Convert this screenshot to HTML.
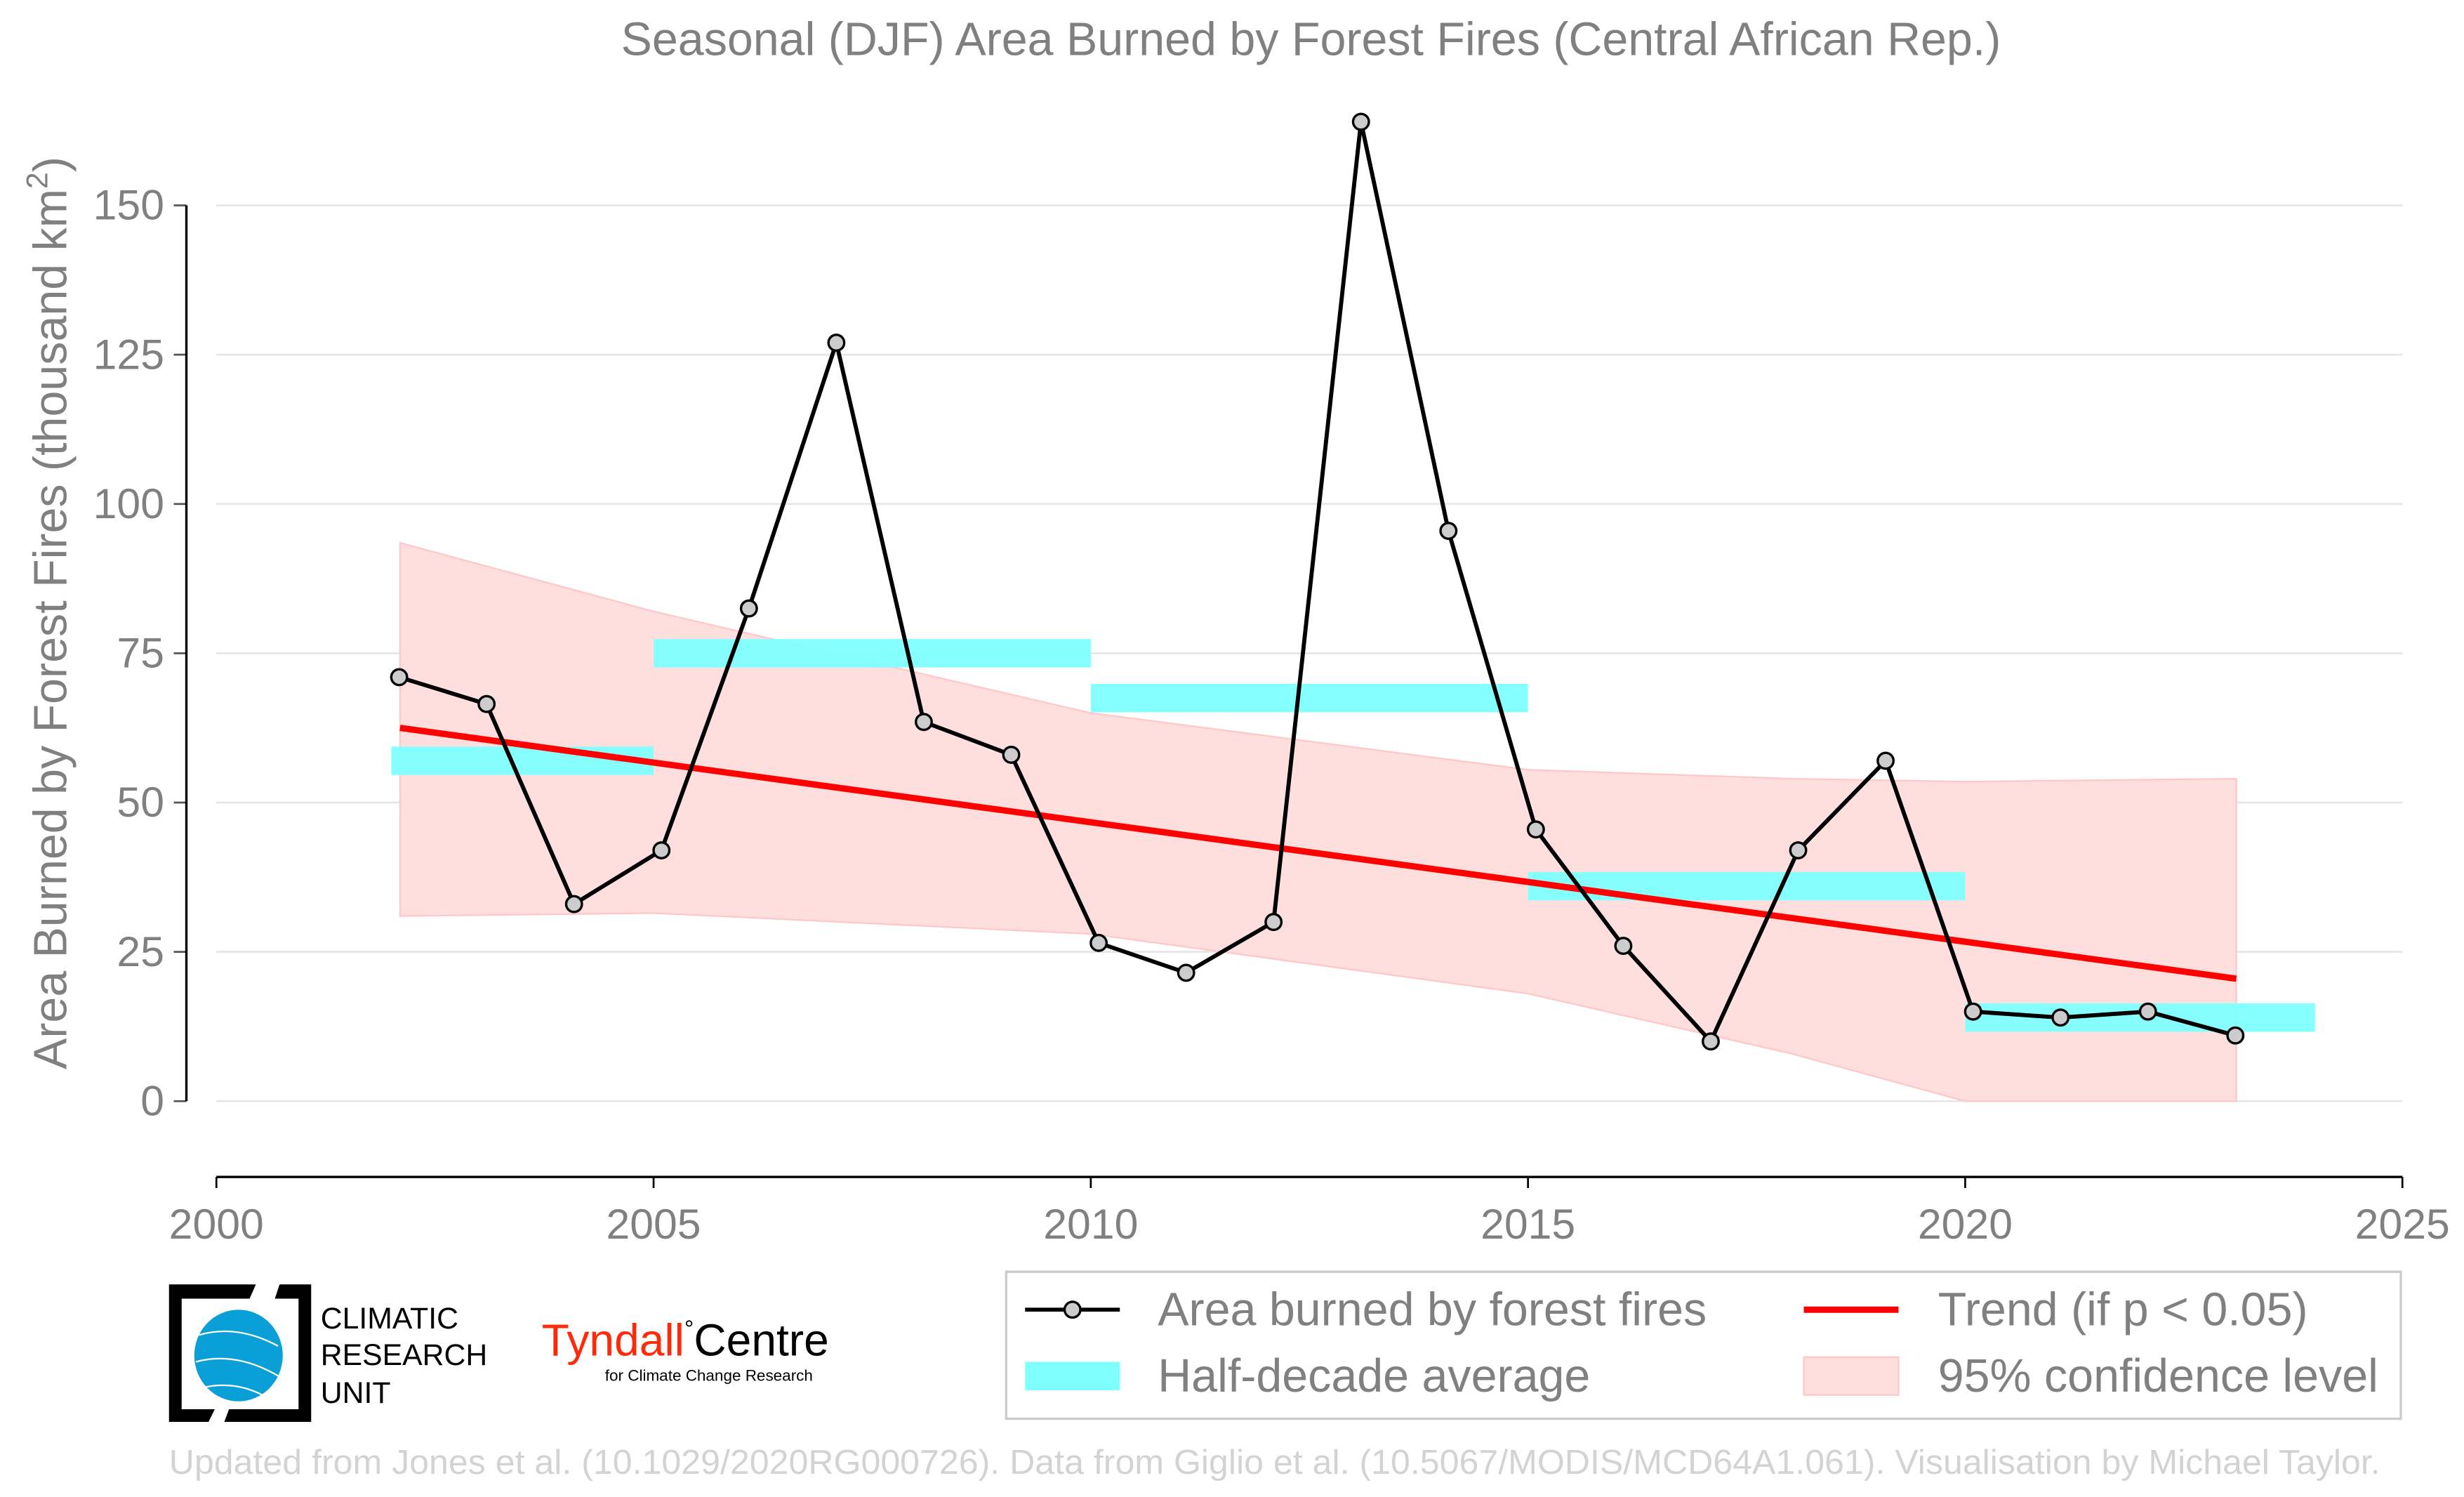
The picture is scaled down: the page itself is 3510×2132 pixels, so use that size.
<!DOCTYPE html>
<html><head><meta charset="utf-8"><style>
html,body{margin:0;padding:0;background:#fff}
svg{display:block;font-family:"Liberation Sans",sans-serif}
</style></head><body>
<svg width="3510" height="2132" viewBox="0 0 1560 947.56" xmlns="http://www.w3.org/2000/svg">
<text x="830" y="35" text-anchor="middle" font-size="29.5" fill="#808080">Seasonal (DJF) Area Burned by Forest Fires (Central African Rep.)</text>
<text transform="translate(42,388) rotate(-90)" text-anchor="middle" font-size="29.5" fill="#808080">Area Burned by Forest Fires (thousand km<tspan font-size="19" dy="-12">2</tspan><tspan dy="12">)</tspan></text>
<g id="grid"></g>
<g id="band"></g>
<g id="bars"></g>
<g id="trend"></g>
<g id="series"></g>
<g id="axes"></g>

<g>
<rect x="637" y="805" width="883" height="93" fill="#fff" stroke="#ccc" stroke-width="1.5"/>
<g>
<line x1="649" y1="829" x2="709" y2="829" stroke="#000" stroke-width="2.5"/>
<circle cx="679" cy="829" r="5" fill="#ccc" stroke="#000" stroke-width="1.5"/>
<text x="733" y="839" font-size="29.5" fill="#808080">Area burned by forest fires</text></g>
<g>
<rect x="649" y="862" width="60" height="18" fill="#80ffff"/>
<text x="733" y="881" font-size="29.5" fill="#808080">Half-decade average</text></g>
<g>
<line x1="1142" y1="829" x2="1202" y2="829" stroke="#ff0000" stroke-width="4"/>
<text x="1227" y="839" font-size="29.5" fill="#808080">Trend (if p &lt; 0.05)</text></g>
<g>
<rect x="1142" y="859" width="60" height="24" fill="#ffdede" stroke="#ffc8c8"/>
<text x="1227" y="881" font-size="29.5" fill="#808080">95% confidence level</text></g>
</g>

<g>
<path d="M107,813 H162 L158,822 H115 V892 H136 L132,900 H107 Z" fill="#000"/>
<path d="M177,813 H197 V900 H142 L145,892 H189 V822 H174 Z" fill="#000"/>
<ellipse cx="151" cy="858" rx="28" ry="29" fill="#0a9fd6"/>
<path d="M126,845 Q150,838 176,852 M124,862 Q150,855 178,872 M130,878 Q150,874 168,884" stroke="#fff" stroke-width="1" fill="none"/>
<text x="203" y="841" font-size="19" fill="#000">CLIMATIC</text>
<text x="203" y="864" font-size="19" fill="#000">RESEARCH</text>
<text x="203" y="888" font-size="19" fill="#000">UNIT</text>
</g>
<g>
<text x="343" y="858" font-size="28.5" fill="#ff2a0a">Tyndall<tspan fill="#000" font-size="15" dy="-12">°</tspan><tspan fill="#000" font-size="28.5" dy="12">Centre</tspan></text>
<text x="383" y="874" font-size="10" fill="#000">for Climate Change Research</text>
</g>
<text x="807" y="933" text-anchor="middle" font-size="22" fill="#d3d3d3" textLength="1400" lengthAdjust="spacingAndGlyphs">Updated from Jones et al. (10.1029/2020RG000726). Data from Giglio et al. (10.5067/MODIS/MCD64A1.061). Visualisation by Michael Taylor.</text>

<script>
const years=[2002,2003,2004,2005,2006,2007,2008,2009,2010,2011,2012,2013,2014,2015,2016,2017,2018,2019,2020,2021,2022,2023];
const burned=[71,66.5,33,42,82.5,127,63.5,58,26.5,21.5,30,164,95.5,45.5,26,10,42,57,15,14,15,11];
const halfStart=[2002,2005,2010,2015,2020];
const halfEnd=[2005,2010,2015,2020,2024];
const halfAvg=[57,75,67.5,36,14];
const trendYears=[2002.1,2023.1];
const trendVals=[62.5,20.5];
const bandYears=[2002.1,2005,2010,2015,2018,2020,2023.1];
const bandUpper=[93.5,82,65,55.5,54,53.5,54];
const bandLower=[31,31.5,28,18,8,0,0];
const yTicks=[0,25,50,75,100,125,150];
const xTicks=[2000,2005,2010,2015,2020,2025];
const NS="http://www.w3.org/2000/svg";
const X=v=>137+(v-2000)*55.36;
const Y=v=>697-v*3.78;
const OFF=0.09;
function mk(t,a,p){const e=document.createElementNS(NS,t);for(const k in a)e.setAttribute(k,a[k]);document.getElementById(p).appendChild(e);return e;}
yTicks.forEach(t=>{
 const g=mk('line',{x1:137,x2:1521,y1:Y(t),y2:Y(t),stroke:'#e6e6e6','stroke-width':1.2},'grid');
 
 
 const tk=mk('line',{x1:110,x2:118,y1:Y(t),y2:Y(t),stroke:'#555','stroke-width':1.2},'axes');
 
 
 const l=mk('text',{x:104,y:Y(t)+9,'text-anchor':'end','font-size':27,fill:'#808080'},'axes');
 l.textContent=t;
 
 
});
const ys=mk('line',{x1:118,x2:118,y1:Y(150),y2:Y(0),stroke:'#000','stroke-width':1.5},'axes');


const xs=mk('line',{x1:X(2000),x2:X(2025),y1:745,y2:745,stroke:'#000','stroke-width':1.5},'axes');


xTicks.forEach(t=>{
 const tk=mk('line',{x1:X(t),x2:X(t),y1:745,y2:752,stroke:'#000','stroke-width':1.2},'axes');
 
 
 const l=mk('text',{x:X(t),y:784,'text-anchor':'middle','font-size':27,fill:'#808080'},'axes');
 l.textContent=t;
 
 
});
let d='';
bandYears.forEach((y,i)=>{d+=(i?'L':'M')+X(y)+','+Y(bandUpper[i]);});
for(let i=bandYears.length-1;i>=0;i--)d+='L'+X(bandYears[i])+','+Y(bandLower[i]);
const band=mk('path',{d:d+'Z',fill:'#ffdede',stroke:'#ffc8c8','stroke-width':1},'band');


halfAvg.forEach((v,i)=>{
 const r=mk('rect',{x:X(halfStart[i]),width:X(halfEnd[i])-X(halfStart[i]),y:Y(v)-9,height:18,fill:'#80ffff','fill-opacity':0.95},'bars');
 
 
});
const tr=mk('line',{x1:X(trendYears[0]),y1:Y(trendVals[0]),x2:X(trendYears[1]),y2:Y(trendVals[1]),stroke:'#ff0000','stroke-width':4},'trend');


const pts=years.map((y,i)=>X(y+OFF)+','+Y(burned[i])).join(' ');
const pl=mk('polyline',{points:pts,fill:'none',stroke:'#000','stroke-width':2.6,'stroke-linejoin':'round'},'series');


years.forEach((y,i)=>{
 const c=mk('circle',{cx:X(y+OFF),cy:Y(burned[i]),r:5,fill:'#cccccc',stroke:'#000','stroke-width':1.5},'series');
 
 
});
</script>
</svg>
</body></html>
